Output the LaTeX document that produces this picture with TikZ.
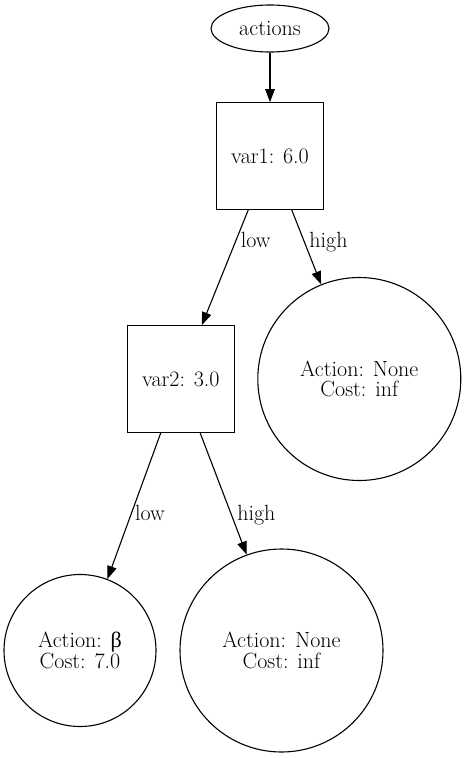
\documentclass[tikz,border=0pt]{standalone}
\usepackage{fontspec}
\newfontfamily\greekfont{Liberation Serif}
\usetikzlibrary{shapes.geometric,arrows.meta}
\begin{document}
\begin{tikzpicture}[x=1pt,y=-1pt,
  every node/.style={font=\fontsize{22}{20.5}\selectfont},
  base/.style={draw=black,line width=1.1pt,inner sep=0pt,align=center},
  oval/.style={base,ellipse,minimum width=118pt,minimum height=47pt},
  sq/.style={base,rectangle,minimum width=106.5pt,minimum height=106.5pt},
  bigc/.style={base,circle,minimum size=203pt},
  smallc/.style={base,circle,minimum size=152pt},
  edge/.style={line width=1.1pt,-{Triangle[length=13pt,width=9.5pt]}},
  lbl/.style={anchor=base,inner sep=0pt}]
\useasboundingbox (0,0) rectangle (467,758);
\node[oval] (actions) at (270,28.5) {actions};
\node[sq] (var1) at (270,156) {var1: 6.0};
\node[sq] (var2) at (180.8,379) {var2: 3.0};
\node[bigc] (none1) at (359.3,379) {Action: None\\Cost: inf};
\node[smallc] (beta) at (80,650.5) {Action: {\greekfont β}\\Cost: 7.0};
\node[bigc] (none2) at (281.5,650.5) {Action: None\\Cost: inf};
\draw[edge] (actions.south) -- (var1.north);
\draw[edge] ([xshift=-21.7pt]var1.south) -- ([xshift=21pt]var2.north);
\draw[edge] ([xshift=21.7pt]var1.south) -- (none1.112);
\draw[edge] ([xshift=-20pt]var2.south) -- (beta.69.4);
\draw[edge] ([xshift=19.3pt]var2.south) -- (none2.110);
\node[lbl] (l1) at (255.7,247.5) {low};
\node[lbl] (h1) at (328.5,247.5) {high};
\node[lbl] (l2) at (150,520) {low};
\node[lbl] (h2) at (256.3,520) {high};
\end{tikzpicture}
\end{document}
